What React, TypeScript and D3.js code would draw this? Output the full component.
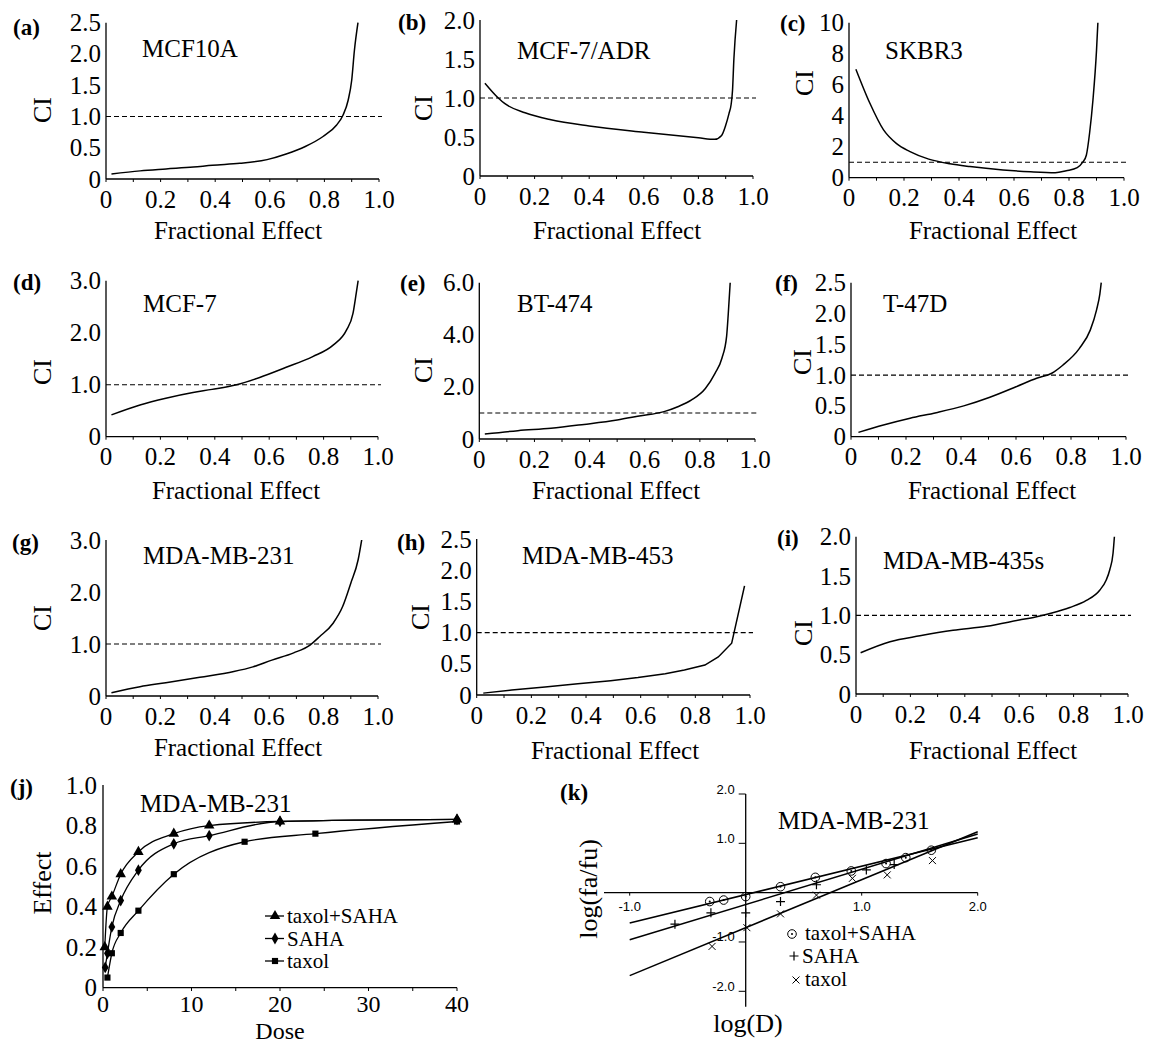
import React from "react";
import * as d3 from "d3";

// ---- CI vs fractional effect curves ----
const mcf10aFa = [0.02, 0.125, 0.22, 0.32, 0.39, 0.49, 0.59, 0.66, 0.73, 0.795, 0.844, 0.868, 0.887, 0.9, 0.91, 0.923];
const mcf10aCi = [0.08, 0.13, 0.16, 0.19, 0.22, 0.25, 0.31, 0.4, 0.52, 0.68, 0.86, 1.02, 1.26, 1.58, 2.06, 2.5];

const adrFa = [0.018, 0.067, 0.09, 0.165, 0.26, 0.4, 0.6, 0.8, 0.86, 0.885, 0.9, 0.912, 0.92, 0.925, 0.93, 0.94];
const adrCi = [1.19, 1.0, 0.93, 0.81, 0.72, 0.64, 0.56, 0.49, 0.47, 0.52, 0.65, 0.8, 0.92, 1.1, 1.5, 2.0];

const skbr3Fa = [0.025, 0.076, 0.125, 0.173, 0.22, 0.29, 0.367, 0.44, 0.56, 0.66, 0.75, 0.79, 0.83, 0.85, 0.863, 0.875, 0.887, 0.9, 0.905];
const skbr3Ci = [7.0, 4.8, 3.1, 2.2, 1.7, 1.2, 0.9, 0.72, 0.5, 0.38, 0.32, 0.45, 0.65, 1.0, 1.45, 2.9, 5.0, 8.2, 10];

const mcf7Fa = [0.02, 0.125, 0.22, 0.32, 0.39, 0.48, 0.565, 0.66, 0.76, 0.835, 0.884, 0.908, 0.92, 0.927];
const mcf7Ci = [0.42, 0.61, 0.74, 0.85, 0.91, 1.0, 1.14, 1.33, 1.54, 1.76, 2.05, 2.37, 2.76, 3.0];

const bt474Fa = [0.02, 0.14, 0.26, 0.38, 0.5, 0.58, 0.67, 0.72, 0.77, 0.82, 0.855, 0.88, 0.897, 0.903, 0.91];
const bt474Ci = [0.19, 0.32, 0.41, 0.56, 0.73, 0.88, 1.05, 1.24, 1.5, 1.94, 2.52, 3.1, 3.94, 4.8, 6.0];

const t47dFa = [0.027, 0.118, 0.215, 0.31, 0.41, 0.505, 0.6, 0.675, 0.73, 0.77, 0.83, 0.87, 0.893, 0.905, 0.91];
const t47dCi = [0.07, 0.19, 0.3, 0.39, 0.5, 0.64, 0.81, 0.95, 1.03, 1.16, 1.43, 1.73, 2.06, 2.32, 2.5];

const mb231Fa = [0.02, 0.125, 0.22, 0.345, 0.47, 0.54, 0.61, 0.69, 0.75, 0.785, 0.835, 0.87, 0.9, 0.927, 0.94];
const mb231Ci = [0.064, 0.18, 0.256, 0.36, 0.47, 0.56, 0.69, 0.83, 0.98, 1.14, 1.4, 1.72, 2.17, 2.62, 3.0];

const mb453Fa = [0.024, 0.128, 0.25, 0.37, 0.49, 0.59, 0.69, 0.76, 0.835, 0.884, 0.933, 0.98];
const mb453Ci = [0.03, 0.08, 0.13, 0.18, 0.23, 0.28, 0.34, 0.4, 0.48, 0.61, 0.83, 1.75];

const mb435Fa = [0.017, 0.125, 0.235, 0.357, 0.48, 0.6, 0.66, 0.72, 0.786, 0.847, 0.896, 0.92, 0.933, 0.945, 0.95];
const mb435Ci = [0.525, 0.665, 0.74, 0.81, 0.86, 0.94, 0.98, 1.03, 1.1, 1.19, 1.32, 1.45, 1.58, 1.79, 2.0];

const faTicks = [0, 0.2, 0.4, 0.6, 0.8, 1.0];

// ---- (j) dose-effect ----
const comboDose = [0.2, 0.5, 1, 2, 4, 8, 12, 20, 40];
const comboEffect = [0.2, 0.4, 0.45, 0.56, 0.67, 0.76, 0.8, 0.82, 0.83];
const sahaDose = [0.25, 0.5, 1, 2, 4, 8, 12, 20, 40];
const sahaEffect = [0.1, 0.17, 0.3, 0.43, 0.58, 0.71, 0.75, 0.82, 0.83];
const taxolDose = [0.5, 1, 2, 4, 8, 16, 24, 40];
const taxolEffect = [0.05, 0.17, 0.27, 0.38, 0.56, 0.72, 0.76, 0.82];
const doseTicks = [0, 10, 20, 30, 40];
const effectTicks = [0, 0.2, 0.4, 0.6, 0.8, 1.0];

// ---- (k) median-effect plot ----
const comboLogD = [-0.31, -0.19, 0, 0.3, 0.6, 0.91, 1.21, 1.38, 1.6];
const comboLogF = [-0.18, -0.15, -0.08, 0.12, 0.31, 0.44, 0.59, 0.71, 0.86];
const sahaLogD = [-0.61, -0.3, 0, 0.3, 0.61, 1.04, 1.28];
const sahaLogF = [-0.64, -0.41, -0.41, -0.18, 0.16, 0.46, 0.57];
const taxolLogD = [-0.29, 0.01, 0.3, 0.61, 0.92, 1.22, 1.61];
const taxolLogF = [-1.09, -0.71, -0.43, -0.05, 0.29, 0.36, 0.65];
// fitted lines: slope, intercept
const fitSlopes = [0.577, 0.714, 0.973];
const fitIntercepts = [-0.04, -0.24, -0.71];
const logDTicks = [-1.0, 1.0, 2.0];
const logFTicks = [2.0, 1.0, -1.0, -2.0];

const serif = "'Liberation Serif', 'Times New Roman', serif";
const sans = "'Liberation Sans', Arial, sans-serif";

const panels = [
  { tag: "(a)", name: "MCF10A", fa: mcf10aFa, ci: mcf10aCi, max: 2.5, step: 0.5, x0: 106, x1: 379, yb: 179, yt: 22.7, tag0: [13, 27], name0: [142, 48], ciL: [42, 110], feL: [238, 230] },
  { tag: "(b)", name: "MCF-7/ADR", fa: adrFa, ci: adrCi, max: 2.0, step: 0.5, x0: 480, x1: 753, yb: 176, yt: 20, tag0: [398, 22], name0: [517, 50], ciL: [423, 108], feL: [617, 230] },
  { tag: "(c)", name: "SKBR3", fa: skbr3Fa, ci: skbr3Ci, max: 10, step: 2, intLabels: true, x0: 849, x1: 1124, yb: 177.7, yt: 22.7, tag0: [780, 23], name0: [885, 50], ciL: [804, 83], feL: [993, 230] },
  { tag: "(d)", name: "MCF-7", fa: mcf7Fa, ci: mcf7Ci, max: 3, step: 1, x0: 106, x1: 378, yb: 436.7, yt: 280.7, tag0: [13, 282], name0: [143, 303], ciL: [42, 372], feL: [236, 490] },
  { tag: "(e)", name: "BT-474", fa: bt474Fa, ci: bt474Ci, max: 6, step: 2, x0: 479.3, x1: 755, yb: 439, yt: 282.7, tag0: [400, 283], name0: [517, 303], ciL: [423, 370], feL: [616, 490] },
  { tag: "(f)", name: "T-47D", fa: t47dFa, ci: t47dCi, max: 2.5, step: 0.5, x0: 851, x1: 1126, yb: 436.7, yt: 282.7, tag0: [775, 283], name0: [883, 303], ciL: [802, 362], feL: [992, 490] },
  { tag: "(g)", name: "MDA-MB-231", fa: mb231Fa, ci: mb231Ci, max: 3, step: 1, x0: 106, x1: 378, yb: 696, yt: 540, tag0: [12, 542], name0: [143, 555], ciL: [42, 618], feL: [238, 747] },
  { tag: "(h)", name: "MDA-MB-453", fa: mb453Fa, ci: mb453Ci, max: 2.5, step: 0.5, x0: 476.7, x1: 750, yb: 695, yt: 539, tag0: [397, 542], name0: [522, 555], ciL: [420, 617], feL: [615, 750], linear: true },
  { tag: "(i)", name: "MDA-MB-435s", fa: mb435Fa, ci: mb435Ci, max: 2, step: 0.5, x0: 856, x1: 1128, yb: 694, yt: 536.7, tag0: [777, 538], name0: [883, 560], ciL: [803, 633], feL: [993, 750] },
];

function ciLabel(v: number, intLabels?: boolean) {
  if (v === 0) return "0";
  return intLabels ? String(v) : v.toFixed(1);
}

function CIPanel({ p }: { p: any }) {
  const x = d3.scaleLinear().domain([0, 1]).range([p.x0, p.x1]);
  const y = d3.scaleLinear().domain([0, p.max]).range([p.yb, p.yt]);
  const yTicks = d3.range(0, p.max + 1e-9, p.step);
  const line = d3
    .line<number>()
    .x((d, i) => x(p.fa[i]))
    .y((d) => y(d))
    .curve(p.linear ? d3.curveLinear : d3.curveMonotoneX);
  return (
    <g>
      <text x={p.tag0[0]} y={p.tag0[1]} fontSize={23} fontWeight="bold" dominantBaseline="central">{p.tag}</text>
      <line x1={p.x0} x2={p.x0} y1={p.yt} y2={p.yb} stroke="#000" strokeWidth={1.3} />
      <line x1={p.x0} x2={p.x1} y1={p.yb} y2={p.yb} stroke="#000" strokeWidth={1.3} />
      {x.ticks(10).map((t) => (
        <line key={t} x1={x(t)} x2={x(t)} y1={p.yb} y2={p.yb + 3} stroke="#000" strokeWidth={1} />
      ))}
      {yTicks.map((t) => (
        <text key={t} x={p.x0 - 5} y={y(t)} textAnchor="end" dominantBaseline="central" fontSize={25}>
          {ciLabel(t, p.intLabels)}
        </text>
      ))}
      {faTicks.map((t) => (
        <text key={t} x={x(t)} y={p.yb + 20} textAnchor="middle" dominantBaseline="central" fontSize={25}>
          {t === 0 ? "0" : t.toFixed(1)}
        </text>
      ))}
      <line x1={p.x0} x2={p.x1 + 3} y1={y(1)} y2={y(1)} stroke="#000" strokeWidth={1.1} strokeDasharray="5,3" />
      <path d={line(p.ci) || ""} fill="none" stroke="#000" strokeWidth={1.5} />
      <text x={p.name0[0]} y={p.name0[1]} fontSize={25} dominantBaseline="central">{p.name}</text>
      <text transform={`translate(${p.ciL[0]},${p.ciL[1]}) rotate(-90)`} textAnchor="middle" dominantBaseline="central" fontSize={26}>CI</text>
      <text x={p.feL[0]} y={p.feL[1]} textAnchor="middle" dominantBaseline="central" fontSize={25}>Fractional Effect</text>
    </g>
  );
}

function DosePanel() {
  const x = d3.scaleLinear().domain([0, 40]).range([103, 457]);
  const y = d3.scaleLinear().domain([0, 1]).range([987.7, 785]);
  const series = [
    { dose: comboDose, eff: comboEffect, sym: d3.symbolTriangle, size: 48, label: "taxol+SAHA" },
    { dose: sahaDose, eff: sahaEffect, sym: d3.symbolDiamond, size: 40, label: "SAHA" },
    { dose: taxolDose, eff: taxolEffect, sym: d3.symbolSquare, size: 38, label: "taxol" },
  ];
  const legendY = [916, 938.5, 961];
  return (
    <g>
      <text x={10} y={787} fontSize={23} fontWeight="bold" dominantBaseline="central">(j)</text>
      <line x1={103} x2={103} y1={785} y2={987.7} stroke="#000" strokeWidth={1.3} />
      <line x1={103} x2={457} y1={987.7} y2={987.7} stroke="#000" strokeWidth={1.3} />
      {d3.range(0, 41, 5).map((t) => (
        <line key={t} x1={x(t)} x2={x(t)} y1={987.7} y2={991} stroke="#000" strokeWidth={1} />
      ))}
      {effectTicks.map((t) => (
        <text key={t} x={97} y={y(t)} textAnchor="end" dominantBaseline="central" fontSize={25}>
          {t === 0 ? "0" : t.toFixed(1)}
        </text>
      ))}
      {doseTicks.map((t) => (
        <text key={t} x={x(t)} y={1004} textAnchor="middle" dominantBaseline="central" fontSize={24}>{t}</text>
      ))}
      {series.map((s, k) => {
        const line = d3
          .line<number>()
          .x((d, i) => x(s.dose[i]))
          .y((d) => y(d))
          .curve(d3.curveMonotoneX);
        const sym = d3.symbol().type(s.sym).size(s.size)();
        return (
          <g key={k}>
            <path d={line(s.eff) || ""} fill="none" stroke="#000" strokeWidth={1.3} />
            {s.eff.map((e, i) => (
              <path key={i} d={sym || ""} transform={`translate(${x(s.dose[i])},${y(e)})`} fill="#000" />
            ))}
            <line x1={265} x2={284} y1={legendY[k]} y2={legendY[k]} stroke="#000" strokeWidth={1.3} />
            <path d={sym || ""} transform={`translate(275,${legendY[k]})`} fill="#000" />
            <text x={287} y={legendY[k]} fontSize={21} dominantBaseline="central">{s.label}</text>
          </g>
        );
      })}
      <text x={140} y={803} fontSize={25} dominantBaseline="central">MDA-MB-231</text>
      <text transform="translate(42,883) rotate(-90)" textAnchor="middle" dominantBaseline="central" fontSize={26}>Effect</text>
      <text x={280} y={1031} textAnchor="middle" dominantBaseline="central" fontSize={24}>Dose</text>
    </g>
  );
}

function Circle({ cx, cy }: { cx: number; cy: number }) {
  return (
    <g>
      <circle cx={cx} cy={cy} r={4.3} fill="none" stroke="#000" strokeWidth={1} />
      <circle cx={cx} cy={cy} r={1} fill="#000" />
    </g>
  );
}
function Plus({ cx, cy }: { cx: number; cy: number }) {
  return <path d={`M${cx - 4.5},${cy}H${cx + 4.5}M${cx},${cy - 4.5}V${cy + 4.5}`} stroke="#000" strokeWidth={1.2} />;
}
function Cross({ cx, cy }: { cx: number; cy: number }) {
  return <path d={`M${cx - 3.5},${cy - 3.5}L${cx + 3.5},${cy + 3.5}M${cx - 3.5},${cy + 3.5}L${cx + 3.5},${cy - 3.5}`} stroke="#000" strokeWidth={1} />;
}

function MedianPanel() {
  const x = d3.scaleLinear().domain([-1, 2]).range([629.7, 977.7]);
  const y = d3.scaleLinear().domain([-2, 2]).range([991.3, 794]);
  const ox = x(0);
  const oy = y(0);
  const legendY = [933, 956, 979];
  return (
    <g>
      <text x={560} y={792} fontSize={23} fontWeight="bold" dominantBaseline="central">(k)</text>
      <line x1={ox} x2={ox} y1={y(2)} y2={1006.7} stroke="#000" strokeWidth={1.3} />
      <line x1={604} x2={x(2)} y1={oy} y2={oy} stroke="#000" strokeWidth={1.3} />
      {logFTicks.map((t) => (
        <g key={t}>
          <line x1={ox - 7} x2={ox} y1={y(t)} y2={y(t)} stroke="#000" strokeWidth={1} />
          <text x={ox - 11} y={y(t) - 5} textAnchor="end" dominantBaseline="central" fontSize={13} fontFamily={sans}>
            {t.toFixed(1)}
          </text>
        </g>
      ))}
      {logDTicks.map((t) => (
        <g key={t}>
          <line x1={x(t)} x2={x(t)} y1={oy} y2={oy + 3} stroke="#000" strokeWidth={1} />
          <text x={x(t)} y={oy + 14} textAnchor="middle" dominantBaseline="central" fontSize={13} fontFamily={sans}>
            {t.toFixed(1)}
          </text>
        </g>
      ))}
      {fitSlopes.map((m, i) => (
        <line key={i} x1={x(-1)} x2={x(2)} y1={y(fitIntercepts[i] - m)} y2={y(fitIntercepts[i] + 2 * m)} stroke="#000" strokeWidth={1.5} />
      ))}
      {comboLogD.map((d, i) => <Circle key={i} cx={x(d)} cy={y(comboLogF[i])} />)}
      {sahaLogD.map((d, i) => <Plus key={i} cx={x(d)} cy={y(sahaLogF[i])} />)}
      {taxolLogD.map((d, i) => <Cross key={i} cx={x(d)} cy={y(taxolLogF[i])} />)}
      <Circle cx={792} cy={legendY[0] + 1} />
      <text x={805} y={legendY[0]} fontSize={21} dominantBaseline="central">taxol+SAHA</text>
      <Plus cx={794} cy={legendY[1]} />
      <text x={802} y={legendY[1]} fontSize={21} dominantBaseline="central">SAHA</text>
      <Cross cx={796} cy={legendY[2] + 1} />
      <text x={805} y={legendY[2]} fontSize={21} dominantBaseline="central">taxol</text>
      <text x={778} y={820} fontSize={25} dominantBaseline="central">MDA-MB-231</text>
      <text transform="translate(588,889) rotate(-90)" textAnchor="middle" dominantBaseline="central" fontSize={26}>log(fa/fu)</text>
      <text x={748} y={1023} textAnchor="middle" dominantBaseline="central" fontSize={26}>log(D)</text>
    </g>
  );
}

export default function App() {
  return (
    <svg
      width={1150}
      height={1043}
      style={{ position: "absolute", left: 0, top: 0, background: "#fff" }}
      fontFamily={serif}
    >
      <rect width={1150} height={1043} fill="#fff" />
      {panels.map((p) => (
        <CIPanel key={p.tag} p={p} />
      ))}
      <DosePanel />
      <MedianPanel />
    </svg>
  );
}
